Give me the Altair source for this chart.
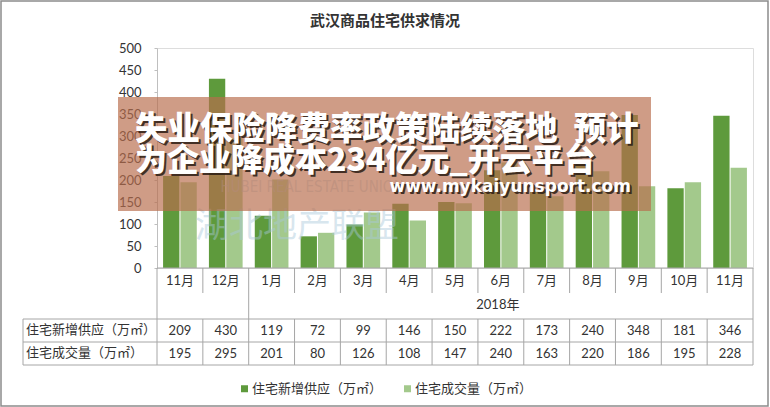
import altair as alt
import pandas as pd

# ---------------- data ----------------
keys = ["2017-11", "2017-12", "2018-01", "2018-02", "2018-03", "2018-04", "2018-05",
        "2018-06", "2018-07", "2018-08", "2018-09", "2018-10", "2018-11"]
month_labels = ["11月", "12月", "1月", "2月", "3月", "4月", "5月", "6月", "7月", "8月", "9月", "10月", "11月"]
supply = [209, 430, 119, 72, 99, 146, 150, 222, 173, 240, 348, 181, 346]
deal = [195, 295, 201, 80, 126, 108, 147, 240, 163, 220, 186, 195, 228]
series = ["住宅新增供应（万㎡）", "住宅成交量（万㎡）"]
colors = ["#5e9a3c", "#a3c98c"]
y_ticks = [0, 50, 100, 150, 200, 250, 300, 350, 400, 450, 500]
year_label = "2018年"
year_key = "2018-06"
group_start_keys = ["2017-11", "2018-01"]
chart_title = "武汉商品住宅供求情况"
banner_line1 = "失业保险降费率政策陆续落地\u2002预计"
banner_line2 = "为企业降成本234亿元_开云平台"
banner_url = "www.mykaiyunsport.com"
watermark_cn = "湖北地产联盟"
watermark_en = "HUBEI REAL ESTATE UNION"

# ---------------- tables ----------------
months_df = pd.DataFrame({"key": keys, "label": month_labels, "supply": supply, "deal": deal})
long_df = pd.DataFrame({
    "key": keys * 2,
    "series": [series[0]] * len(keys) + [series[1]] * len(keys),
    "value": supply + deal,
})
rows_df = pd.DataFrame({"row": series, "pos": [0, 1]})
year_df = pd.DataFrame({"key": [year_key], "label": [year_label]})
group_df = pd.DataFrame({"key": group_start_keys})
one = pd.DataFrame({"a": [0]})

W, H = 596, 220
GRID = "#a6a6a6"
NUMFONT = "Lato, 'Noto Sans CJK SC'"
CJK = "'Noto Sans CJK SC'"
TXT = "#333333"

xscale = alt.Scale(domain=keys, paddingInner=0, paddingOuter=0)

bars = alt.Chart(long_df).mark_bar().encode(
    x=alt.X("key:N", scale=xscale, axis=None),
    xOffset=alt.XOffset("series:N", scale=alt.Scale(domain=series, paddingInner=0.06, paddingOuter=0.35)),
    y=alt.Y("value:Q", scale=alt.Scale(domain=[0, 500], nice=False),
            axis=alt.Axis(values=y_ticks, title=None, grid=False, domainColor="#bfbfbf",
                          tickColor="#bfbfbf", tickSize=3, labelPadding=13, labelFont=NUMFONT,
                          labelFontSize=13, labelColor=TXT)),
    color=alt.Color("series:N", scale=alt.Scale(domain=series, range=colors),
                    legend=alt.Legend(orient="none", legendX=81, legendY=334, direction="horizontal",
                                      title=None, symbolType="square", symbolSize=49,
                                      symbolStrokeWidth=0, labelFont=CJK, labelFontSize=13,
                                      labelColor=TXT, columnPadding=18, labelOffset=1, padding=0,
                                      labelLimit=300)),
)

wm_cn = alt.Chart(one).mark_text(font=CJK, fontSize=34, color="#a9c8da", opacity=0.45,
                                 align="center", baseline="middle").encode(
    x=alt.value(140), y=alt.value(179), text=alt.value(watermark_cn))
wm_en = alt.Chart(one).mark_text(font="Liberation Sans Narrow, 'DejaVu Sans Condensed'", fontSize=15,
                                 color="#a9c8da", opacity=0.5, align="center", baseline="middle").encode(
    x=alt.value(155), y=alt.value(139), text=alt.value(watermark_en))

title_txt = alt.Chart(one).mark_text(font=CJK, fontSize=15, fontWeight="bold", color=TXT,
                                     align="center", baseline="middle").encode(
    x=alt.value(228), y=alt.value(-27), text=alt.value(chart_title))

# table grid
axis_line = alt.Chart(one).mark_rule(color=GRID).encode(x=alt.value(0), x2=alt.value(W), y=alt.value(H))
v_month = alt.Chart(months_df).mark_rule(color=GRID).encode(
    x=alt.X("key:N", scale=xscale, bandPosition=0, axis=None), y=alt.value(H), y2=alt.value(H + 25))
v_rows = alt.Chart(months_df).mark_rule(color=GRID).encode(
    x=alt.X("key:N", scale=xscale, bandPosition=0, axis=None), y=alt.value(H + 51), y2=alt.value(H + 97))
v_group = alt.Chart(group_df).mark_rule(color=GRID).encode(
    x=alt.X("key:N", scale=xscale, bandPosition=0, axis=None), y=alt.value(H + 25), y2=alt.value(H + 51))
v_right = alt.Chart(one).mark_rule(color=GRID).encode(x=alt.value(W), y=alt.value(H), y2=alt.value(H + 97))
v_left = alt.Chart(one).mark_rule(color=GRID).encode(x=alt.value(-134), y=alt.value(H + 51), y2=alt.value(H + 97))
h_lines = [alt.Chart(one).mark_rule(color=GRID).encode(x=alt.value(-134), x2=alt.value(W), y=alt.value(yy))
           for yy in (H + 51, H + 74, H + 97)]

# table text
month_txt = alt.Chart(months_df).mark_text(font=NUMFONT, fontSize=13, color=TXT, baseline="middle").encode(
    x=alt.X("key:N", scale=xscale, axis=None), y=alt.value(H + 13), text="label:N")
year_txt = alt.Chart(year_df).mark_text(font=NUMFONT, fontSize=13, color=TXT, baseline="middle", dx=-3).encode(
    x=alt.X("key:N", scale=xscale, axis=None), y=alt.value(H + 37), text="label:N")
sup_txt = alt.Chart(months_df).mark_text(font=NUMFONT, fontSize=13, color=TXT, baseline="middle").encode(
    x=alt.X("key:N", scale=xscale, axis=None), y=alt.value(H + 63), text="supply:Q")
deal_txt = alt.Chart(months_df).mark_text(font=NUMFONT, fontSize=13, color=TXT, baseline="middle").encode(
    x=alt.X("key:N", scale=xscale, axis=None), y=alt.value(H + 86), text="deal:Q")
row1_txt = alt.Chart(rows_df).transform_filter("datum.pos == 0").mark_text(
    font=CJK, fontSize=13, color=TXT, align="left", baseline="middle").encode(
    x=alt.value(-131), y=alt.value(H + 62), text="row:N")
row2_txt = alt.Chart(rows_df).transform_filter("datum.pos == 1").mark_text(
    font=CJK, fontSize=13, color=TXT, align="left", baseline="middle").encode(
    x=alt.value(-131), y=alt.value(H + 85), text="row:N")

# banner overlay
banner = alt.Chart(one).mark_rect(color="#b86d4d", opacity=0.68).encode(
    x=alt.value(-39), x2=alt.value(494), y=alt.value(49), y2=alt.value(163))


def shadow_text(txt, x, y, size, font, align="left", weight=900):
    sh = alt.Chart(one).mark_text(font=font, fontSize=size, fontWeight=weight, color="#2b1d14",
                                  opacity=0.85, align=align, baseline="middle", dx=2, dy=2).encode(
        x=alt.value(x), y=alt.value(y), text=alt.value(txt))
    fg = alt.Chart(one).mark_text(font=font, fontSize=size, fontWeight=weight, color="#ffffff",
                                  align=align, baseline="middle").encode(
        x=alt.value(x), y=alt.value(y), text=alt.value(txt))
    return [sh, fg]


b1 = shadow_text(banner_line1, -22, 82, 32.5, CJK)
b2 = shadow_text(banner_line2, -22, 113, 32, CJK)
b3 = shadow_text(banner_url, 474, 139, 17, "'DejaVu Sans'", align="right", weight="bold")

border = alt.Chart(one).mark_rect(fill=None, stroke="#8c8c8c", strokeWidth=1.5).encode(
    x=alt.value(-156), x2=alt.value(611), y=alt.value(-47), y2=alt.value(358))

chart = alt.layer(
    bars, wm_cn, wm_en, title_txt, axis_line, v_month, v_rows, v_group, v_right, v_left, *h_lines,
    month_txt, year_txt, sup_txt, deal_txt, row1_txt, row2_txt,
    banner, *b1, *b2, *b3, border,
).properties(
    width=W, height=H,
    autosize=alt.AutoSizeParams(type="none"),
    padding={"left": 157, "top": 48, "right": 17, "bottom": 139},
).configure_view(stroke=None).configure(background="white")

chart.save("out.html", embed_options={"renderer": "svg", "actions": False})
